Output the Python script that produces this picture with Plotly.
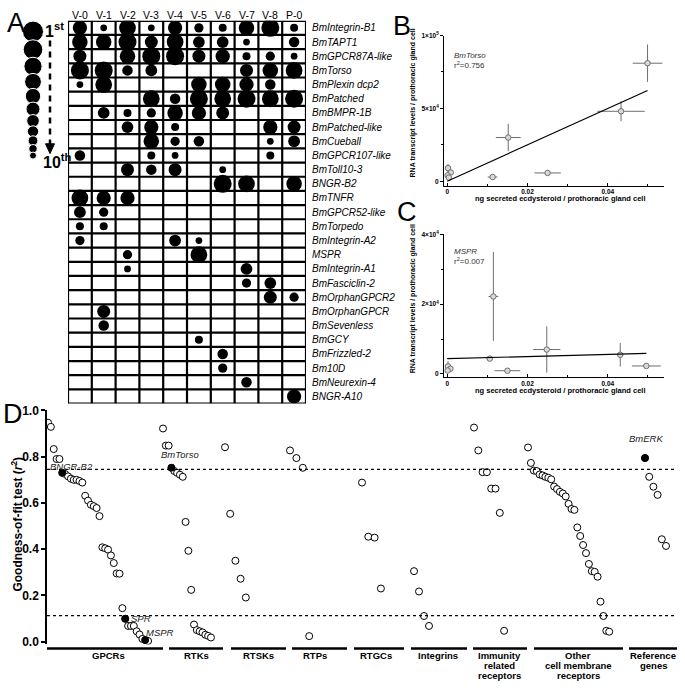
import plotly.graph_objects as go

W, H = 685, 688
FONT = "Arial, Liberation Sans, sans-serif"


def px(x):
    return x / W


def py(y):
    return 1 - y / H


# ---------------------------------------------------------------- panel A data
stages = ["V-0", "V-1", "V-2", "V-3", "V-4", "V-5", "V-6", "V-7", "V-8", "P-0"]
genes = ["BmIntegrin-B1", "BmTAPT1", "BmGPCR87A-like", "BmTorso", "BmPlexin dcp2",
         "BmPatched", "BmBMPR-1B", "BmPatched-like", "BmCueball", "BmGPCR107-like",
         "BmToll10-3", "BNGR-B2", "BmTNFR", "BmGPCR52-like", "BmTorpedo",
         "BmIntegrin-A2", "MSPR", "BmIntegrin-A1", "BmFasciclin-2", "BmOrphanGPCR2",
         "BmOrphanGPCR", "BmSevenless", "BmGCY", "BmFrizzled-2", "Bm10D",
         "BmNeurexin-4", "BNGR-A10"]
# top 10 genes of each stage, 1st to 10th
top10 = {
    "V-0": ["BmTorso", "BmTNFR", "BmTAPT1", "BmIntegrin-B1", "BmGPCR87A-like",
            "BmGPCR52-like", "BmGPCR107-like", "BmIntegrin-A2", "BmTorpedo", "BmPlexin dcp2"],
    "V-1": ["BmTorso", "BmPlexin dcp2", "BmTAPT1", "BmTNFR", "BmOrphanGPCR",
            "BmBMPR-1B", "BmSevenless", "BmGPCR52-like", "BmTorpedo", "BmIntegrin-B1"],
    "V-2": ["BmTAPT1", "BmIntegrin-B1", "BmGPCR87A-like", "BmTNFR", "BmToll10-3",
            "BmPatched-like", "BmTorso", "MSPR", "BmBMPR-1B", "BmIntegrin-A1"],
    "V-3": ["BmGPCR87A-like", "BmPatched", "BmCueball", "BmPatched-like", "BmTAPT1",
            "BmTorso", "BmToll10-3", "BmBMPR-1B", "BmGPCR107-like", "BmIntegrin-B1"],
    "V-4": ["BmGPCR87A-like", "BmTAPT1", "BmBMPR-1B", "BmIntegrin-B1", "BmToll10-3",
            "BmIntegrin-A2", "BmPatched", "BmCueball", "BmPatched-like", "BmGPCR107-like"],
    "V-5": ["BmPatched", "MSPR", "BmPlexin dcp2", "BmBMPR-1B", "BmGPCR87A-like",
            "BmTAPT1", "BmCueball", "BmIntegrin-B1", "BmGCY", "BmIntegrin-A2"],
    "V-6": ["BNGR-B2", "BmPatched", "BmPlexin dcp2", "BmGPCR87A-like", "BmBMPR-1B",
            "BmTAPT1", "BmFrizzled-2", "Bm10D", "BmIntegrin-B1", "BmToll10-3"],
    "V-7": ["BmPatched", "BNGR-B2", "BmIntegrin-B1", "BmPlexin dcp2", "BmTorso",
            "BmIntegrin-A1", "BmNeurexin-4", "BmFasciclin-2", "BmGPCR87A-like", "BmTAPT1"],
    "V-8": ["BmIntegrin-B1", "BmPatched", "BmTorso", "BmPatched-like", "BmOrphanGPCR2",
            "BmFasciclin-2", "BmPlexin dcp2", "BmGPCR87A-like", "BmGPCR107-like", "BmCueball"],
    "P-0": ["BmPatched", "BmTorso", "BNGR-B2", "BNGR-A10", "BmPatched-like",
            "BmCueball", "BmTAPT1", "BmOrphanGPCR2", "BmIntegrin-B1", "BmGPCR87A-like"],
}
legend_ranks = list(range(1, 12))

# ---------------------------------------------------------------- panel B data (BmTorso)
torso_x = [0.0499, 0.0433, 0.0152, 0.0250, 0.0113, 0.0002, 0.0009, 0.0001, 0.0004]
torso_xerr = [0.0037, 0.0059, 0.0031, 0.0033, 0.0012, 0.0002, 0.0003, 0.0002, 0.0002]
torso_y = [81000, 48000, 30000, 5700, 2900, 9000, 6000, 4000, 2500]
torso_yerr = [12800, 6800, 9400, 1000, 600, 3000, 1500, 1500, 1000]
torso_fit = (1.247e6, 0.0)   # slope, intercept
torso_r2 = "0.756"

# ---------------------------------------------------------------- panel C data (MSPR)
mspr_x = [0.0115, 0.0248, 0.0431, 0.0496, 0.0150, 0.0106, 0.0002, 0.0008, 0.0001]
mspr_xerr = [0.0012, 0.0034, 0.0004, 0.0036, 0.0032, 0.0008, 0.0002, 0.0003, 0.0002]
mspr_y = [22200, 7000, 5500, 2300, 940, 4400, 2200, 1500, 1000]
mspr_yerr = [12700, 6600, 3400, 500, 300, 400, 1500, 800, 600]
mspr_fit = (3.0e4, 4400.0)
mspr_r2 = "0.007"

# ---------------------------------------------------------------- panel D data (r2)
gpcr_r2 = [0.947, 0.929, 0.833, 0.790, 0.790, 0.730, 0.725, 0.715, 0.705, 0.700,
           0.700, 0.695, 0.688, 0.631, 0.610, 0.592, 0.586, 0.578, 0.543, 0.408,
           0.404, 0.398, 0.373, 0.340, 0.295, 0.294, 0.145, 0.099, 0.068, 0.068,
           0.068, 0.045, 0.031, 0.012, 0.007, 0.003]
rtk_r2 = [0.922, 0.848, 0.848, 0.752, 0.738, 0.730, 0.722, 0.713, 0.518, 0.393,
          0.224, 0.074, 0.050, 0.045, 0.040, 0.030, 0.025, 0.018]
rtsk_r2 = [0.841, 0.553, 0.350, 0.272, 0.191]
rtp_r2 = [0.827, 0.794, 0.752, 0.024]
rtgc_r2 = [0.688, 0.454, 0.450, 0.230]
integrin_r2 = [0.305, 0.217, 0.111, 0.068]
immunity_r2 = [0.926, 0.827, 0.733, 0.733, 0.662, 0.662, 0.557, 0.047]
other_r2 = [0.840, 0.773, 0.740, 0.738, 0.723, 0.719, 0.713, 0.709, 0.702, 0.671,
            0.660, 0.648, 0.641, 0.628, 0.596, 0.574, 0.570, 0.494, 0.457, 0.418,
            0.383, 0.336, 0.305, 0.302, 0.281, 0.173, 0.111, 0.047, 0.043]
reference_r2 = [0.794, 0.713, 0.670, 0.635, 0.443, 0.414]
# highlighted genes: (category, index in that category)
highlighted = {"BNGR-B2": ("GPCRs", 5), "SPR": ("GPCRs", 27), "MSPR": ("GPCRs", 34),
               "BmTorso": ("RTKs", 3), "BmERK": ("Reference genes", 0)}
thresholds = [0.745, 0.113]

# category layout: name, label lines, values, first point px, step px, bar start, bar end, label x
categories = [
    ("GPCRs", ["GPCRs"], gpcr_r2, 48, 2.86, 47, 163, 108),
    ("RTKs", ["RTKs"], rtk_r2, 163, 2.82, 169, 223, 196),
    ("RTSKs", ["RTSKs"], rtsk_r2, 225, 5.2, 231, 286, 258),
    ("RTPs", ["RTPs"], rtp_r2, 290, 6.4, 292, 347, 315),
    ("RTGCs", ["RTGCs"], rtgc_r2, 362, 6.3, 354, 404, 376),
    ("Integrins", ["Integrins"], integrin_r2, 414, 5.0, 411, 467, 438),
    ("Immunity", ["Immunity", "related", "receptors"], immunity_r2, 474, 4.3, 473, 527, 499),
    ("Other", ["Other", "cell membrane", "receptors"], other_r2, 528, 2.9, 534, 623, 578),
    ("Reference genes", ["Reference", "genes"], reference_r2, 645, 4.2, 629, 677, 653),
]

fig = go.Figure()
shapes = []
annotations = []


def note(text, x, y, size, xanchor="center", yanchor="middle", xref="paper", yref="paper",
         color="black", angle=0, align="center"):
    annotations.append(dict(x=x, y=y, xref=xref, yref=yref, text=text, showarrow=False,
                            xanchor=xanchor, yanchor=yanchor, textangle=angle, align=align,
                            font=dict(size=size, color=color, family=FONT)))


# ================================================================ panel A
ax_x = []
ax_y = []
ax_s = []
for ci, st in enumerate(stages):
    for rank, g in enumerate(top10[st], start=1):
        ax_x.append(ci + 0.5)
        ax_y.append(genes.index(g) + 0.5)
        ax_s.append(18 - (rank - 1) * 1.25)
fig.add_trace(go.Scatter(x=ax_x, y=ax_y, mode="markers", xaxis="x", yaxis="y",
                         marker=dict(size=ax_s, color="black", opacity=1, line=dict(width=0)),
                         hoverinfo="skip", showlegend=False))

for i in range(len(stages) + 1):
    shapes.append(dict(type="line", xref="x", yref="y", x0=i, x1=i, y0=0, y1=len(genes),
                       line=dict(color="black", width=2.2)))
for j in range(len(genes) + 1):
    shapes.append(dict(type="line", xref="x", yref="y", x0=0, x1=len(stages), y0=j, y1=j,
                       line=dict(color="black", width=2.2)))
for ci, st in enumerate(stages):
    note(st, ci + 0.5, py(8), 10.5, xref="x")
for gi, g in enumerate(genes):
    note("<i>%s</i>" % g, px(310), gi + 0.5, 10, xanchor="left", yref="y")

# legend of ranks
leg_sizes = [21 - (r - 1) * 1.4 for r in legend_ranks]
leg_y = [25]
for k in range(1, len(leg_sizes)):
    leg_y.append(leg_y[-1] + 0.9 * (leg_sizes[k - 1] + leg_sizes[k]) / 2)
fig.add_trace(go.Scatter(x=[33] * len(leg_sizes), y=leg_y, mode="markers",
                         xaxis="x5", yaxis="y5",
                         marker=dict(size=leg_sizes, color="black", opacity=1),
                         hoverinfo="skip", showlegend=False))
shapes.append(dict(type="line", xref="paper", yref="paper", x0=px(50), x1=px(50),
                   y0=py(34), y1=py(140), line=dict(color="black", width=2.5, dash="6px,5px")))
shapes.append(dict(type="path", xref="paper", yref="paper",
                   path="M %f %f L %f %f L %f %f Z" % (px(45.5), py(139), px(54.5), py(139), px(50), py(149)),
                   fillcolor="black", line=dict(color="black", width=1)))
note("<b>1<sup>st</sup></b>", px(43), py(23), 16, xanchor="left")
note("<b>10<sup>th</sup></b>", px(41), py(157), 16, xanchor="left")

# ================================================================ panels B and C
open_marker = dict(size=5.5, color="#d9d9d9", opacity=1, line=dict(color="#6e6e6e", width=1))
err_style = dict(type="data", color="#6e6e6e", thickness=1, width=0)


def add_scatter_panel(xs, xe, ys, ye, fit, xa, ya):
    fig.add_trace(go.Scatter(x=xs, y=ys, mode="markers", xaxis=xa, yaxis=ya,
                             error_x=dict(array=xe, **err_style),
                             error_y=dict(array=ye, **err_style),
                             marker=open_marker, hoverinfo="skip", showlegend=False))
    lx = [0, max(xs)]
    fig.add_trace(go.Scatter(x=lx, y=[fit[0] * v + fit[1] for v in lx], mode="lines",
                             xaxis=xa, yaxis=ya, line=dict(color="black", width=1.2),
                             hoverinfo="skip", showlegend=False))


add_scatter_panel(torso_x, torso_xerr, torso_y, torso_yerr, torso_fit, "x2", "y2")
add_scatter_panel(mspr_x, mspr_xerr, mspr_y, mspr_yerr, mspr_fit, "x3", "y3")

small_x = dict(range=[-0.0008, 0.054], tickvals=[0, 0.02, 0.04],
               ticktext=["<b>0</b>", "<b>0.02</b>", "<b>0.04</b>"],
               minor=dict(tickvals=[0.01, 0.03, 0.05], ticks="inside", ticklen=2, tickcolor="black"),
               showline=True, linecolor="black", linewidth=1, ticks="inside",
               ticklen=3, tickcolor="black", showgrid=False, zeroline=False,
               tickfont=dict(size=6.5, color="black", family=FONT), fixedrange=True)
small_y = dict(showline=True, linecolor="black", linewidth=1, ticks="outside",
               ticklen=3, tickcolor="black", showgrid=False, zeroline=False,
               tickfont=dict(size=6.5, color="black", family=FONT), fixedrange=True)

for (letter, lx, ly) in [("A", 16, 16), ("B", 402, 19), ("C", 407, 208), ("D", 13, 414)]:
    note(letter, px(lx), py(ly), 27)

for (name, r2, ty, yc, xt_y) in [("BmTorso", torso_r2, 54, 97, 195),
                                  ("MSPR", mspr_r2, 254, 296, 390)]:
    note("<i>%s</i><br>r<sup>2</sup>=%s" % (name, r2), px(452), py(ty), 8,
         xanchor="left", color="#333333", align="left")
    note("<b>RNA transcript levels / prothoracic gland cell</b>", px(413), py(yc), 7, angle=-90)
    note("<b>ng secreted ecdysteroid / prothoracic gland cell</b>", px(560), py(xt_y), 7.5)

# ================================================================ panel D
for (cname, lines, vals, x0, step, b0, b1, lx) in categories:
    xs = [x0 + i * step for i in range(len(vals))]
    fig.add_trace(go.Scatter(x=xs, y=vals, mode="markers", xaxis="x4", yaxis="y4",
                             marker=dict(size=7, color="white", line=dict(color="black", width=1)),
                             hoverinfo="skip", showlegend=False))
    shapes.append(dict(type="line", xref="x4", yref="paper", x0=b0, x1=b1,
                       y0=py(652), y1=py(652), line=dict(color="black", width=2.5)))
    for k, ln in enumerate(lines):
        note("<b>%s</b>" % ln, lx, py(659 + 10 * k), 9.5, xref="x4")

cat_lookup = {c[0]: c for c in categories}
hx, hy = [], []
for gname, (cname, idx) in highlighted.items():
    c = cat_lookup[cname]
    hx.append(c[3] + idx * c[4])
    hy.append(c[2][idx])
fig.add_trace(go.Scatter(x=hx, y=hy, mode="markers", xaxis="x4", yaxis="y4",
                         marker=dict(size=7.5, color="black"),
                         hoverinfo="skip", showlegend=False))

for t in thresholds:
    shapes.append(dict(type="line", xref="x4", yref="y4", x0=47, x1=677, y0=t, y1=t,
                       line=dict(color="black", width=1.3, dash="dot")))

for (txt, tx, ty) in [("BNGR-B2", 48, 467), ("BmTorso", 159, 455), ("SPR", 129, 621),
                      ("MSPR", 144, 636), ("BmERK", 627, 439)]:
    note("<i>%s</i>" % txt, px(tx), py(ty), 9.5, xanchor="left", color="#222222")

note("<b>Goodness-of-fit test (<i>r</i><sup>2</sup>)</b>", px(17), py(526), 12, angle=-90)

hidden = dict(visible=False, fixedrange=True)
fig.update_layout(
    width=W, height=H, margin=dict(l=0, r=0, t=0, b=0),
    paper_bgcolor="white", plot_bgcolor="white",
    font=dict(family=FONT, color="black"),
    shapes=shapes, annotations=annotations,
    xaxis=dict(domain=[px(68), px(306)], range=[0, len(stages)], **hidden),
    yaxis=dict(domain=[py(403), py(14)], range=[len(genes), 0], **hidden),
    xaxis2=dict(domain=[px(444), px(664)], anchor="y2", **small_x),
    yaxis2=dict(domain=[py(181.5), py(29)], anchor="x2", range=[-3000, 100000],
                tickvals=[0, 50000, 100000],
                ticktext=["<b>0</b>", "<b>5×10<sup>4</sup></b>", "<b>1×10<sup>5</sup></b>"],
                minor=dict(tickvals=[25000, 75000], ticks="outside", ticklen=2, tickcolor="black"),
                **small_y),
    xaxis3=dict(domain=[px(444), px(664)], anchor="y3", **small_x),
    yaxis3=dict(domain=[py(376.5), py(231)], anchor="x3", range=[-1000, 40000],
                tickvals=[0, 20000, 40000],
                ticktext=["<b>0</b>", "<b>2×10<sup>4</sup></b>", "<b>4×10<sup>4</sup></b>"],
                minor=dict(tickvals=[10000, 30000], ticks="outside", ticklen=2, tickcolor="black"),
                **small_y),
    xaxis4=dict(domain=[px(46), px(680)], range=[46, 680], anchor="y4", **hidden),
    yaxis4=dict(domain=[py(647.8), py(410)], range=[-0.012, 1.0], anchor="free", position=px(46),
                tickvals=[0, 0.2, 0.4, 0.6, 0.8, 1.0],
                ticktext=["<b>%.1f</b>" % v for v in [0, 0.2, 0.4, 0.6, 0.8, 1.0]],
                showline=True, linecolor="black", linewidth=1.5, ticks="outside",
                ticklen=4, tickwidth=1.5, tickcolor="black", showgrid=False, zeroline=False,
                tickfont=dict(size=12, color="black", family=FONT), fixedrange=True),
    xaxis5=dict(domain=[0, px(68)], range=[0, 68], anchor="y5", **hidden),
    yaxis5=dict(domain=[py(180), 1], range=[180, 0], anchor="x5", **hidden),
)

fig.write_html("out.html", config={"displayModeBar": False},
               post_script="document.body.style.margin='0px';")
